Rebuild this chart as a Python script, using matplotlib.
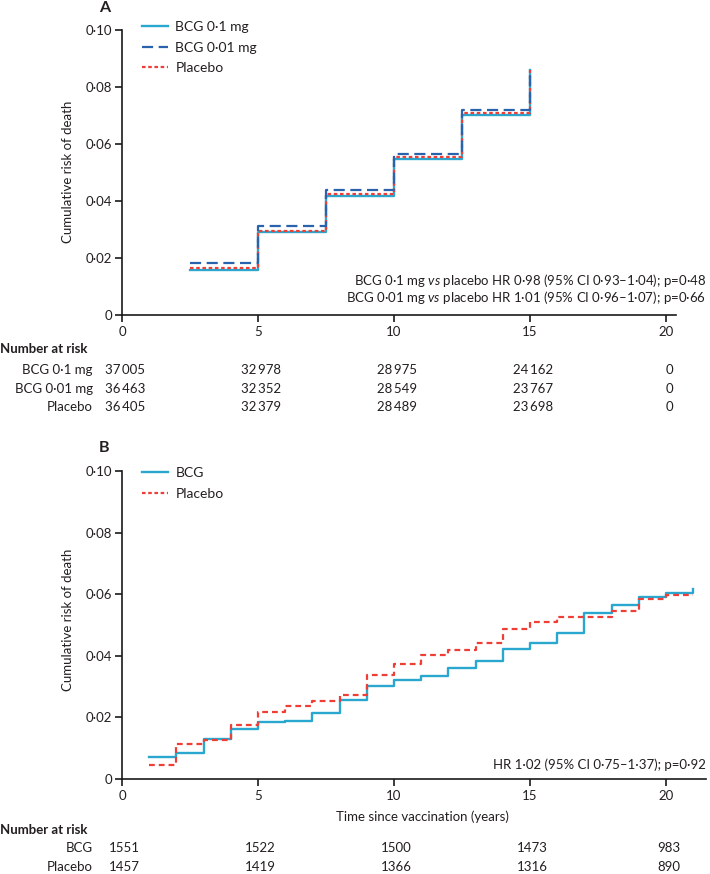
import matplotlib
matplotlib.use("Agg")
import matplotlib.pyplot as plt
from matplotlib import transforms

# ---------------- data ----------------
# Panel A
a_times = [2.5, 5, 7.5, 10, 12.5, 15]
a_bcg01 = [0.0157, 0.0291, 0.0416, 0.0547, 0.0701, 0.0860]
a_bcg001 = [0.0184, 0.0312, 0.0440, 0.0565, 0.0719, 0.0860]
a_placebo = [0.0164, 0.0293, 0.0426, 0.0556, 0.0709, 0.0860]
a_labels = ["BCG 0·1 mg", "BCG 0·01 mg", "Placebo"]
a_risk_times = [0, 5, 10, 15, 20]
a_risk_bcg01 = [37005, 32978, 28975, 24162, 0]
a_risk_bcg001 = [36463, 32352, 28549, 23767, 0]
a_risk_placebo = [36405, 32379, 28489, 23698, 0]
a_hr_lines = ["BCG 0·1 mg $\\mathit{vs}$ placebo HR 0·98 (95% CI 0·93–1·04); p=0·48",
              "BCG 0·01 mg $\\mathit{vs}$ placebo HR 1·01 (95% CI 0·96–1·07); p=0·66"]

# Panel B
b_times = list(range(1, 22))
b_bcg = [0.0071, 0.0085, 0.0131, 0.0163, 0.0184, 0.0189, 0.0215, 0.0255, 0.0302, 0.0320,
         0.0335, 0.0362, 0.0382, 0.0423, 0.0442, 0.0475, 0.0539, 0.0566, 0.0591, 0.0603, 0.0618]
b_placebo = [0.0047, 0.0113, 0.0126, 0.0175, 0.0216, 0.0238, 0.0252, 0.0273, 0.0338, 0.0375,
             0.0403, 0.0420, 0.0442, 0.0487, 0.0511, 0.0525, 0.0525, 0.0547, 0.0586, 0.0596, 0.0596]
b_labels = ["BCG", "Placebo"]
b_risk_times = [0, 5, 10, 15, 20]
b_risk_bcg = [1551, 1522, 1500, 1473, 983]
b_risk_placebo = [1457, 1419, 1366, 1316, 890]
b_hr = "HR 1·02 (95% CI 0·75–1·37); p=0·92"

y_ticks = [0, 0.02, 0.04, 0.06, 0.08, 0.10]
x_ticks = [0, 5, 10, 15, 20]

# ---------------- style ----------------
FONT = ["Lato", "DejaVu Sans"]
plt.rcParams["font.family"] = FONT
plt.rcParams["mathtext.fontset"] = "custom"
plt.rcParams["mathtext.rm"] = "Lato"
plt.rcParams["mathtext.it"] = "Lato:italic"
plt.rcParams["mathtext.bf"] = "Lato:bold"
TXT = "#231f20"
FS = 9.5

C_CYAN = "#2aa7cf"
C_BLUE = "#2a63ad"
C_RED = "#ee3e36"

W, H = 710, 874
fig = plt.figure(figsize=(W / 100, H / 100), dpi=100)


def px_rect(left, top, right, bottom):
    return [left / W, 1 - bottom / H, (right - left) / W, (bottom - top) / H]


def fmt_tick(v):
    if v == 0:
        return "0"
    return f"{v:.2f}".replace(".", "·")


def fmt_num(n):
    if n >= 10000:
        return f"{n:,}".replace(",", "\u2009")
    return str(n)


def style_axes(ax, xmax):
    ax.set_xlim(0, xmax)
    ax.set_ylim(0, 0.10)
    for s in ["top", "right"]:
        ax.spines[s].set_visible(False)
    for s in ["left", "bottom"]:
        ax.spines[s].set_linewidth(1.2)
        ax.spines[s].set_color("#1a1a1a")
    ax.set_yticks(y_ticks)
    ax.set_yticklabels([fmt_tick(v) for v in y_ticks])
    ax.set_xticks(x_ticks)
    ax.set_xticklabels([str(v) for v in x_ticks])
    ax.tick_params(axis="both", direction="out", length=5, width=1.2, color="#1a1a1a",
                   labelsize=FS, labelcolor=TXT)
    ax.tick_params(axis="y", pad=2)
    ax.tick_params(axis="x", pad=3)
    ax.patch.set_alpha(0)


# ---------------- Panel A ----------------
px_per_year = 27.2
axA = fig.add_axes(px_rect(122, 30, 676, 315))
style_axes(axA, (676 - 122) / px_per_year)
axA.plot(a_times, a_bcg01, drawstyle="steps-post", color=C_CYAN, lw=1.7, label=a_labels[0], zorder=3)
axA.plot(a_times, a_placebo, drawstyle="steps-post", color=C_RED, lw=1.6, dashes=(1.6, 1.2),
         label=a_labels[2], zorder=4)
axA.plot(a_times, a_bcg001, drawstyle="steps-post", color=C_BLUE, lw=1.6, dashes=(5, 2.5),
         label=a_labels[1], zorder=5)
hA, lA = axA.get_legend_handles_labels()
order = [0, 2, 1]
legA = axA.legend([hA[i] for i in order], [lA[i] for i in order], loc="upper left",
                  bbox_to_anchor=(142 / W, 1 - 21 / H), bbox_transform=fig.transFigure,
                  frameon=False, fontsize=FS + 0.5, handlelength=1.9, handletextpad=0.5,
                  labelspacing=0.62, borderpad=0, borderaxespad=0)
for t in legA.get_texts():
    t.set_color(TXT)

fig.text(706 / W, 1 - 280 / H, a_hr_lines[0], ha="right", va="center", fontsize=FS, color=TXT)
fig.text(706 / W, 1 - 298 / H, a_hr_lines[1], ha="right", va="center", fontsize=FS, color=TXT)

fig.text(68 / W, 1 - 172 / H, "Cumulative risk of death", rotation=90, ha="center", va="center",
         fontsize=FS, color=TXT)
fig.text(105 / W, 1 - 8 / H, "A", ha="center", va="center", fontsize=11.5, fontweight="bold", color=TXT)

# risk table A
trA = transforms.blended_transform_factory(axA.transData, fig.transFigure)
fig.text(0, 1 - 349 / H, "Number at risk", ha="left", va="center", fontsize=FS,
         fontweight="bold", color=TXT)
for lab, vals, ypx in zip(a_labels, [a_risk_bcg01, a_risk_bcg001, a_risk_placebo], [370, 389, 407]):
    fig.text(93 / W, 1 - ypx / H, lab, ha="right", va="center", fontsize=FS, color=TXT)
    for t, v in zip(a_risk_times, vals):
        fig.text(t + 0.12, 1 - ypx / H, fmt_num(v), transform=trA, ha="center", va="center",
                 fontsize=FS, color=TXT)

# ---------------- Panel B ----------------
axB = fig.add_axes(px_rect(122, 471, 706, 779))
style_axes(axB, (706 - 122) / px_per_year)
axB.plot(b_times, b_bcg, drawstyle="steps-post", color=C_CYAN, lw=1.7, label=b_labels[0], zorder=3)
axB.plot(b_times, b_placebo, drawstyle="steps-post", color=C_RED, lw=1.6, dashes=(2.6, 1.8),
         label=b_labels[1], zorder=4)
legB = axB.legend(loc="upper left", bbox_to_anchor=(142 / W, 1 - 467 / H),
                  bbox_transform=fig.transFigure, frameon=False, fontsize=FS + 0.5,
                  handlelength=1.9, handletextpad=0.5, labelspacing=0.62, borderpad=0,
                  borderaxespad=0)
legB.get_lines()[1].set_dashes((1.6, 1.2))
for t in legB.get_texts():
    t.set_color(TXT)

fig.text(706 / W, 1 - 765 / H, b_hr, ha="right", va="center", fontsize=FS, color=TXT)
fig.text(68 / W, 1 - 620 / H, "Cumulative risk of death", rotation=90, ha="center", va="center",
         fontsize=FS, color=TXT)
fig.text(104 / W, 1 - 448 / H, "B", ha="center", va="center", fontsize=11.5, fontweight="bold", color=TXT)
fig.text(422 / W, 1 - 817 / H, "Time since vaccination (years)", ha="center", va="center",
         fontsize=FS, color=TXT)

trB = transforms.blended_transform_factory(axB.transData, fig.transFigure)
fig.text(0, 1 - 830 / H, "Number at risk", ha="left", va="center", fontsize=FS,
         fontweight="bold", color=TXT)
for lab, vals, ypx in zip(b_labels, [b_risk_bcg, b_risk_placebo], [848, 867]):
    fig.text(93 / W, 1 - ypx / H, lab, ha="right", va="center", fontsize=FS, color=TXT)
    for t, v in zip(b_risk_times, vals):
        fig.text(t + 0.1, 1 - ypx / H, fmt_num(v), transform=trB, ha="center", va="center",
                 fontsize=FS, color=TXT)

fig.savefig("out.png", dpi=100)
